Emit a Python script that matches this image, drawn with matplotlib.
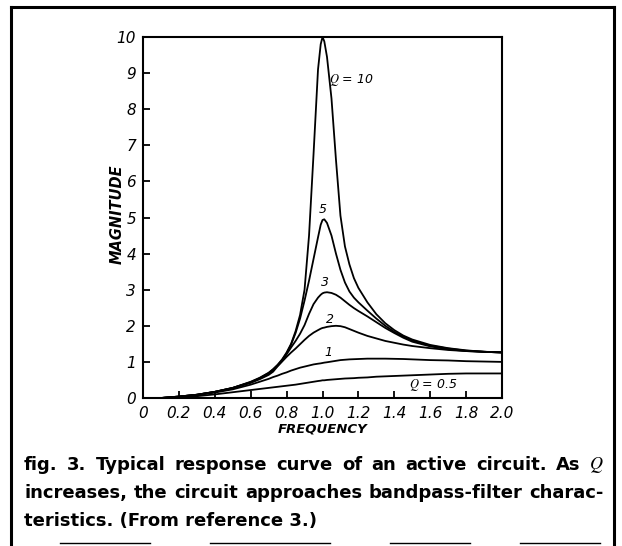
import matplotlib
matplotlib.use("Agg")
import matplotlib.pyplot as plt
from matplotlib.lines import Line2D

plt.rcParams["mathtext.fontset"] = "stix"

# Frecuencia normalizada (eje x)
freq = [0, 0.1, 0.2, 0.3, 0.4, 0.5, 0.6, 0.65, 0.7, 0.725, 0.75, 0.775,
        0.8, 0.825, 0.85, 0.875, 0.9, 0.925, 0.95, 0.975, 0.99, 1.0,
        1.01, 1.025, 1.05, 1.075, 1.1, 1.125, 1.15, 1.175, 1.2, 1.25,
        1.3, 1.35, 1.4, 1.45, 1.5, 1.6, 1.7, 1.8, 1.9, 2.0]

# Magnitud para cada Q
mag_q10 = [0, 0.0, 0.04, 0.09, 0.17, 0.28, 0.45, 0.56, 0.7, 0.8, 0.92, 1.07,
           1.26, 1.5, 1.85, 2.3, 3.0, 4.5, 6.75, 9.1, 9.8, 10.0,
           9.88, 9.45, 8.3, 6.6, 5.05, 4.2, 3.7, 3.32, 3.05, 2.65,
           2.32, 2.07, 1.88, 1.73, 1.62, 1.47, 1.38, 1.32, 1.28, 1.26]
mag_q5 = [0, 0.0, 0.04, 0.09, 0.17, 0.28, 0.44, 0.55, 0.69, 0.79, 0.91, 1.05,
          1.24, 1.48, 1.8, 2.2, 2.7, 3.25, 3.85, 4.45, 4.8, 4.93,
          4.95, 4.85, 4.5, 4.0, 3.55, 3.2, 2.95, 2.78, 2.65, 2.42,
          2.2, 2.0, 1.83, 1.7, 1.59, 1.45, 1.37, 1.31, 1.28, 1.26]
mag_q3 = [0, 0.0, 0.04, 0.09, 0.17, 0.28, 0.43, 0.54, 0.67, 0.77, 0.89, 1.03,
          1.21, 1.4, 1.58, 1.78, 2.02, 2.33, 2.6, 2.78, 2.86, 2.9,
          2.92, 2.93, 2.91, 2.86, 2.78, 2.68, 2.58, 2.49, 2.41, 2.26,
          2.1, 1.94, 1.8, 1.67, 1.56, 1.43, 1.35, 1.3, 1.28, 1.26]
mag_q2 = [0, 0.0, 0.04, 0.09, 0.17, 0.27, 0.42, 0.52, 0.64, 0.73, 0.88, 1.01,
          1.14, 1.26, 1.37, 1.49, 1.61, 1.72, 1.81, 1.88, 1.92, 1.94,
          1.95, 1.97, 1.99, 2.0, 1.99, 1.96, 1.91, 1.86, 1.81, 1.72,
          1.65, 1.58, 1.53, 1.48, 1.44, 1.38, 1.33, 1.3, 1.28, 1.27]
mag_q1 = [0, 0.0, 0.03, 0.08, 0.15, 0.24, 0.37, 0.45, 0.53, 0.58, 0.62, 0.67,
          0.71, 0.76, 0.8, 0.84, 0.87, 0.9, 0.93, 0.95, 0.96, 0.97,
          0.98, 0.99, 1.01, 1.03, 1.05, 1.06, 1.07, 1.075, 1.08, 1.09,
          1.09, 1.09, 1.085, 1.08, 1.07, 1.05, 1.04, 1.02, 1.01, 1.0]
mag_q05 = [0, 0.0, 0.02, 0.05, 0.1, 0.16, 0.22, 0.25, 0.28, 0.295, 0.31, 0.325,
           0.34, 0.355, 0.37, 0.39, 0.41, 0.43, 0.45, 0.47, 0.48, 0.49,
           0.49, 0.5, 0.51, 0.52, 0.53, 0.54, 0.545, 0.55, 0.56, 0.57,
           0.59, 0.6, 0.61, 0.62, 0.63, 0.65, 0.67, 0.68, 0.68, 0.68]

curvas = [mag_q10, mag_q5, mag_q3, mag_q2, mag_q1, mag_q05]
etiquetas = ["$Q$ = 10", "5", "3", "2", "1", "$Q$ = 0.5"]
pos_etiquetas = [(1.16, 8.8), (1.0, 5.22), (1.015, 3.2), (1.04, 2.17),
                 (1.035, 1.25), (1.62, 0.36)]

xticks = [0, 0.2, 0.4, 0.6, 0.8, 1.0, 1.2, 1.4, 1.6, 1.8, 2.0]
yticks = list(range(0, 11))

fig = plt.figure(figsize=(6.22, 5.46), dpi=100)
ax = fig.add_axes([143 / 622, 1 - 398 / 546, 359 / 622, 361 / 546])

for y in curvas:
    ax.plot(freq, y, color="black", linewidth=1.3, solid_joinstyle="round")

for texto, (x, y) in zip(etiquetas, pos_etiquetas):
    ax.text(x, y, texto, fontsize=9, style="italic", ha="center", va="center")

ax.set_xlim(0, 2.0)
ax.set_ylim(0, 10)
ax.set_xticks(xticks)
ax.set_xticklabels(["0" if t == 0 else f"{t:.1f}" for t in xticks],
                   fontsize=11, style="italic")
ax.set_yticks(yticks)
ax.set_yticklabels([str(t) for t in yticks], fontsize=11, style="italic")
ax.tick_params(direction="in", length=5, width=1.3, top=False, right=False)
ax.tick_params(axis="x", pad=6)
ax.tick_params(axis="y", pad=5)
for s in ax.spines.values():
    s.set_linewidth(1.5)

ax.set_xlabel("FREQUENCY", fontsize=9.5, style="italic", weight="bold",
              labelpad=1)
ax.set_ylabel("MAGNITUDE", fontsize=10.5, style="italic", weight="bold",
              va="center")
ax.yaxis.set_label_coords(-0.072, 0.51)

# Marco alrededor de la figura
x0, x1, ytop = 11 / 622, 614 / 622, 1 - 7 / 546
for xs, ys in [([x0, x0], [0, ytop]), ([x1, x1], [0, ytop]), ([x0, x1], [ytop, ytop])]:
    fig.add_artist(Line2D(xs, ys, color="black", linewidth=2.2))
ybot = 1 - 543 / 546
for a, b in [(60, 150), (210, 330), (390, 470), (520, 600)]:
    fig.add_artist(Line2D([a / 622, b / 622], [ybot, ybot], color="black",
                          linewidth=1.0))

# Pie de figura, justificado en las dos primeras lineas
fuente = dict(family="DejaVu Sans", fontsize=13.0, weight="bold")
lineas = ["fig. 3. Typical response curve of an active circuit. As $Q$",
          "increases, the circuit approaches bandpass-filter charac-",
          "teristics. (From reference 3.)"]
izq, der = 24, 604
renderer = fig.canvas.get_renderer()
for i, linea in enumerate(lineas):
    ypos = 1 - (465 + 28 * i) / 546
    if i == len(lineas) - 1:
        fig.text(izq / 622, ypos, linea, va="center", **fuente)
        continue
    palabras = [fig.text(0, ypos, p, va="center", **fuente) for p in linea.split(" ")]
    anchos = [t.get_window_extent(renderer).width for t in palabras]
    hueco = (der - izq - sum(anchos)) / (len(palabras) - 1)
    x = izq
    for t, w in zip(palabras, anchos):
        t.set_x(x / 622)
        x += w + hueco

fig.savefig("out.png", dpi=100)
